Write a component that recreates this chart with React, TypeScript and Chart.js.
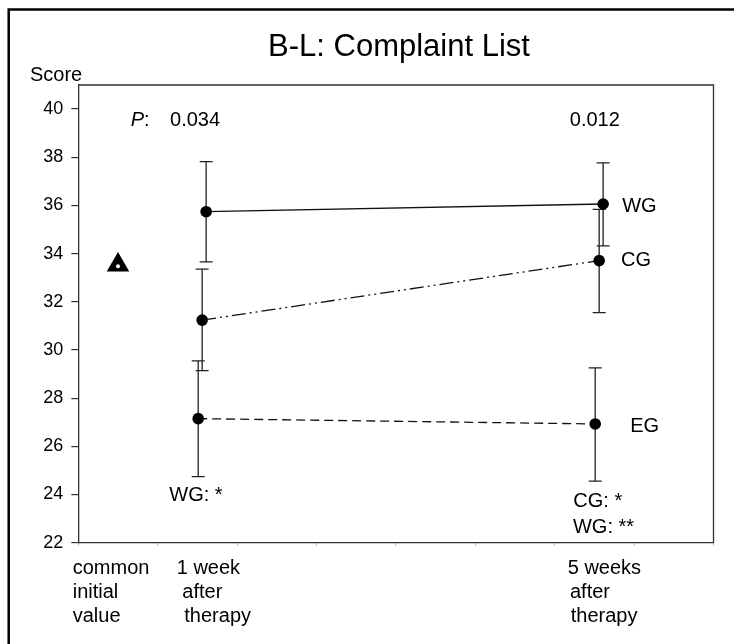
import React, { useEffect, useRef } from "react";
import { Chart, registerables } from "chart.js";

Chart.register(...registerables);

// ---- data ----
const titleText = "B-L: Complaint List";
const yAxisTitle = "Score";
const timeLabels = [
  ["common", "initial", "value"],
  ["1 week", "after", "therapy"],
  ["5 weeks", "after", "therapy"],
];
const timeX = [0.5, 1.56, 6.56]; // initial, 1 week, 5 weeks (x-scale units)
const groupNames = ["WG", "CG", "EG"];
const groupOffset = [0.05, 0, -0.05];

const initialValue = [33.53];

const wgMean = [35.74, 36.06];
const wgUpper = [37.82, 37.77];
const wgLower = [33.66, 34.32];

const cgMean = [31.24, 33.71];
const cgUpper = [33.36, 35.84];
const cgLower = [29.14, 31.55];

const egMean = [27.15, 26.93];
const egUpper = [29.55, 29.26];
const egLower = [24.74, 24.56];

const pValues = ["0.034", "0.012"];
const sigWeek1 = ["WG: *"];
const sigWeek5 = ["CG: *", "WG: **"];

const yMin = 22;
const yMax = 41;
const yStep = 2;
const yTickMax = 40;

const FONT = "'Liberation Sans', Arial, Helvetica, sans-serif";

export default function App() {
  const ref = useRef<HTMLCanvasElement | null>(null);

  useEffect(() => {
    const canvas = ref.current;
    if (!canvas) return;

    const means = [wgMean, cgMean, egMean];
    const uppers = [wgUpper, cgUpper, egUpper];
    const lowers = [wgLower, cgLower, egLower];
    const dashes = [[], [14, 4, 2, 4, 2, 4], [9, 5]];
    const followX = [timeX[1], timeX[2]];

    const groupDatasets = groupNames.map((name, g) => ({
      label: name,
      data: means[g].map((v, i) => ({ x: followX[i] + groupOffset[g], y: v })),
      showLine: true,
      borderColor: "#111",
      borderWidth: 1.3,
      borderDash: dashes[g],
      pointRadius: 5.8,
      pointBackgroundColor: "#000",
      pointBorderColor: "#000",
      pointBorderWidth: 0,
    }));

    const overlay = {
      id: "overlay",
      beforeDatasetsDraw(chart: any) {
        const ctx = chart.ctx;
        const xs = chart.scales.x;
        const ys = chart.scales.y;
        ctx.save();
        ctx.strokeStyle = "#222";
        ctx.lineWidth = 1.3;
        ctx.setLineDash([]);
        groupNames.forEach((_, g) => {
          means[g].forEach((_v, i) => {
            const px = xs.getPixelForValue(followX[i] + groupOffset[g]);
            const top = ys.getPixelForValue(uppers[g][i]);
            const bot = ys.getPixelForValue(lowers[g][i]);
            ctx.beginPath();
            ctx.moveTo(px, top);
            ctx.lineTo(px, bot);
            ctx.moveTo(px - 6.5, top);
            ctx.lineTo(px + 6.5, top);
            ctx.moveTo(px - 6.5, bot);
            ctx.lineTo(px + 6.5, bot);
            ctx.stroke();
          });
        });
        ctx.restore();
      },
      afterDraw(chart: any) {
        const ctx = chart.ctx;
        const xs = chart.scales.x;
        const ys = chart.scales.y;
        const ca = chart.chartArea;
        ctx.save();
        // outer frame
        ctx.strokeStyle = "#000";
        ctx.lineWidth = 2.5;
        ctx.beginPath();
        ctx.moveTo(8.7, 700);
        ctx.lineTo(8.7, 9.5);
        ctx.lineTo(760, 9.5);
        ctx.stroke();
        // plot box top & right
        ctx.strokeStyle = "#333";
        ctx.lineWidth = 1.3;
        ctx.beginPath();
        ctx.moveTo(ca.left, ca.top);
        ctx.lineTo(ca.right, ca.top);
        ctx.lineTo(ca.right, ca.bottom);
        ctx.stroke();

        ctx.fillStyle = "#000";
        ctx.textBaseline = "alphabetic";
        // title
        ctx.textAlign = "center";
        ctx.font = `31px ${FONT}`;
        ctx.fillText(titleText, 399, 55.7);
        // y axis title
        ctx.textAlign = "left";
        ctx.font = `20px ${FONT}`;
        ctx.fillText(yAxisTitle, 30, 80.7);

        // x labels
        const xLeft = [
          [72.7, 72.7, 72.7],
          [176.7, 182.3, 184.3],
          [567.7, 570, 570.7],
        ];
        const baselines = [574.3, 598.3, 622.3];
        timeLabels.forEach((lines, i) => {
          lines.forEach((t, j) => ctx.fillText(t, xLeft[i][j], baselines[j]));
        });

        const put = (t: string, xv: number, yv: number, font = `20px ${FONT}`) => {
          ctx.font = font;
          ctx.fillText(t, xs.getPixelForValue(xv), ys.getPixelForValue(yv));
        };
        // P values
        put("P", timeX[1] - 0.9, 39.3, `italic 20px ${FONT}`);
        ctx.font = `italic 20px ${FONT}`;
        const pw = ctx.measureText("P").width;
        ctx.font = `20px ${FONT}`;
        ctx.fillText(":", xs.getPixelForValue(timeX[1] - 0.9) + pw, ys.getPixelForValue(39.3));
        put(pValues[0], timeX[1] - 0.405, 39.3);
        put(pValues[1], timeX[2] - 0.37, 39.3);
        // group labels
        put(groupNames[0], timeX[2] + 0.29, 35.74);
        put(groupNames[1], timeX[2] + 0.275, 33.49);
        put(groupNames[2], timeX[2] + 0.39, 26.61);
        // significance
        put(sigWeek1[0], timeX[1] - 0.414, 23.72);
        put(sigWeek5[0], timeX[2] - 0.326, 23.48);
        put(sigWeek5[1], timeX[2] - 0.33, 22.42);
        ctx.restore();
      },
    };

    const chart = new Chart(canvas, {
      type: "scatter",
      data: {
        datasets: [
          ...groupDatasets,
          {
            label: "initial",
            data: initialValue.map((v) => ({ x: timeX[0], y: v })),
            showLine: false,
            pointStyle: "triangle",
            pointRadius: 13,
            pointBackgroundColor: "#000",
            pointBorderColor: "#000",
            pointBorderWidth: 0,
            order: 1,
          },
          {
            label: "initial-dot",
            data: initialValue.map((v) => ({ x: timeX[0], y: v - 0.05 })),
            showLine: false,
            pointRadius: 2,
            pointBackgroundColor: "#fff",
            pointBorderColor: "#fff",
            pointBorderWidth: 0,
            order: -1,
          },
        ] as any,
      },
      options: {
        animation: false,
        responsive: true,
        maintainAspectRatio: false,
        devicePixelRatio: 1,
        layout: { padding: { top: 85, right: 20.5, bottom: 101.3, left: 0 } },
        plugins: {
          legend: { display: false },
          title: { display: false },
          tooltip: { enabled: false },
        },
        scales: {
          x: {
            type: "linear",
            min: 0,
            max: 8,
            ticks: { display: false, stepSize: 1 },
            grid: {
              display: true,
              drawOnChartArea: false,
              drawTicks: true,
              tickLength: 3,
              color: "#bbb",
              lineWidth: 1,
            },
            border: { display: true, color: "#333", width: 1.3 },
            afterFit(scale: any) {
              scale.height = 0;
            },
          },
          y: {
            type: "linear",
            min: yMin,
            max: yMax,
            ticks: {
              stepSize: yStep,
              color: "#000",
              padding: 8,
              font: { family: FONT, size: 18 },
            },
            afterBuildTicks(scale: any) {
              scale.ticks = scale.ticks.filter((t: any) => t.value <= yTickMax);
            },
            grid: {
              display: true,
              drawOnChartArea: false,
              drawTicks: true,
              tickLength: 7,
              color: "#333",
              lineWidth: 1.2,
            },
            border: { display: true, color: "#333", width: 1.3 },
            afterFit(scale: any) {
              scale.width = 78.3;
            },
          },
        },
      } as any,
      plugins: [overlay],
    });

    return () => chart.destroy();
  }, []);

  return (
    <div
      style={{
        position: "fixed",
        left: 0,
        top: 0,
        width: 734,
        height: 644,
        background: "#fff",
      }}
    >
      <canvas ref={ref} />
    </div>
  );
}
